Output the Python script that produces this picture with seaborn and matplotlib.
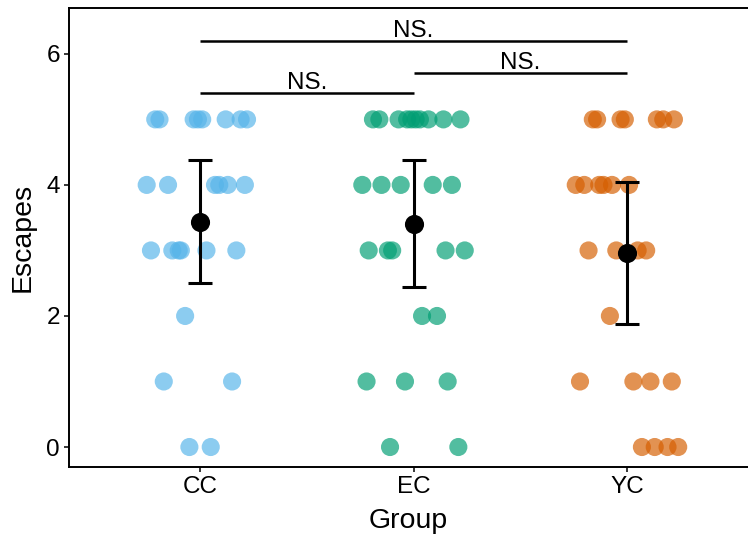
import matplotlib
matplotlib.use("Agg")
import matplotlib.pyplot as plt
import numpy as np
import pandas as pd
import seaborn as sns

# Groups and their colours
groups = ["CC", "EC", "YC"]
palette = {"CC": "#56B4E9", "EC": "#009E73", "YC": "#D55E00"}

# Escapes per animal, with the horizontal jitter offset used for each dot
cc_escapes = [5, 5, 5, 5, 5, 5, 5, 5,
              4, 4, 4, 4, 4, 4,
              3, 3, 3, 3, 3, 3,
              2,
              1, 1,
              0, 0]
cc_jitter = [-0.21, -0.19, -0.03, -0.01, 0.01, 0.12, 0.19, 0.22,
             -0.25, -0.15, 0.07, 0.09, 0.13, 0.21,
             -0.23, -0.13, -0.10, -0.09, 0.03, 0.17,
             -0.07,
             -0.17, 0.15,
             -0.05, 0.05]

ec_escapes = [5, 5, 5, 5, 5, 5, 5, 5, 5, 5,
              4, 4, 4, 4, 4,
              3, 3, 3, 3, 3,
              2, 2,
              1, 1, 1,
              0, 0]
ec_jitter = [-0.19, -0.16, -0.07, -0.03, -0.01, 0.01, 0.03, 0.07, 0.14, 0.22,
             -0.24, -0.15, -0.06, 0.09, 0.18,
             -0.21, -0.12, -0.10, 0.15, 0.24,
             0.04, 0.11,
             -0.22, -0.04, 0.16,
             -0.11, 0.21]

yc_escapes = [5, 5, 5, 5, 5, 5, 5,
              4, 4, 4, 4, 4, 4,
              3, 3, 3, 3,
              2,
              1, 1, 1, 1,
              0, 0, 0, 0]
yc_jitter = [-0.16, -0.14, -0.03, -0.01, 0.14, 0.17, 0.22,
             -0.24, -0.20, -0.13, -0.11, -0.07, 0.01,
             -0.18, -0.05, 0.05, 0.09,
             -0.08,
             -0.22, 0.03, 0.11, 0.21,
             0.07, 0.13, 0.19, 0.24]

# Half-length of the error bar drawn around each group mean
error_half = [0.94, 0.97, 1.09]

# Pairwise comparison brackets
sig_pairs = [(0, 1), (1, 2), (0, 2)]
sig_heights = [5.40, 5.71, 6.20]
sig_labels = ["NS.", "NS.", "NS."]

frames = []
for i, (g, esc, jit) in enumerate(zip(groups,
                                       [cc_escapes, ec_escapes, yc_escapes],
                                       [cc_jitter, ec_jitter, yc_jitter])):
    frames.append(pd.DataFrame({"Group": g,
                                "Escapes": esc,
                                "pos": i + np.asarray(jit)}))
df = pd.concat(frames, ignore_index=True)
means = df.groupby("Group", sort=False)["Escapes"].mean().reindex(groups).values

sns.set_theme(style="ticks")
plt.rcParams["font.family"] = ["Liberation Sans", "DejaVu Sans"]
plt.rcParams["text.color"] = "black"
plt.rcParams["axes.labelcolor"] = "black"

fig = plt.figure(figsize=(7.48, 5.42), dpi=100)
ax = fig.add_axes([69 / 748, 75 / 542, 679 / 748, 459 / 542])

sns.scatterplot(data=df, x="pos", y="Escapes", hue="Group", palette=palette,
                s=170, alpha=0.68, linewidth=0, legend=False, ax=ax, zorder=2)

ax.errorbar(np.arange(len(groups)), means, yerr=error_half, fmt="none",
            ecolor="black", elinewidth=2.2, capsize=8.5, capthick=2.2, zorder=3)
ax.scatter(np.arange(len(groups)), means, s=190, color="black", zorder=4,
           linewidth=0)

for (a, b), h, lab in zip(sig_pairs, sig_heights, sig_labels):
    ax.plot([a, b], [h, h], color="black", lw=1.8, solid_capstyle="butt", zorder=3)
    ax.text((a + b) / 2, h + 0.06, lab, ha="center", va="baseline",
            fontsize=17.5, color="black")

ax.set_xlim(-0.614, 2.567)
ax.set_ylim(-0.305, 6.70)
ax.set_xticks(range(len(groups)))
ax.set_xticklabels(groups)
ax.set_yticks([0, 2, 4, 6])

ax.set_xlabel("Group", fontsize=20.5, labelpad=7, color="black")
ax.set_ylabel("Escapes", fontsize=20.5, labelpad=8, color="black")
ax.tick_params(axis="both", labelsize=17.5, length=3.5, width=1.1,
               colors="black", pad=3)

for side in ["left", "bottom", "top"]:
    ax.spines[side].set_linewidth(1.4)
    ax.spines[side].set_color("black")
ax.spines["right"].set_visible(False)

fig.savefig("out.png", dpi=100)
